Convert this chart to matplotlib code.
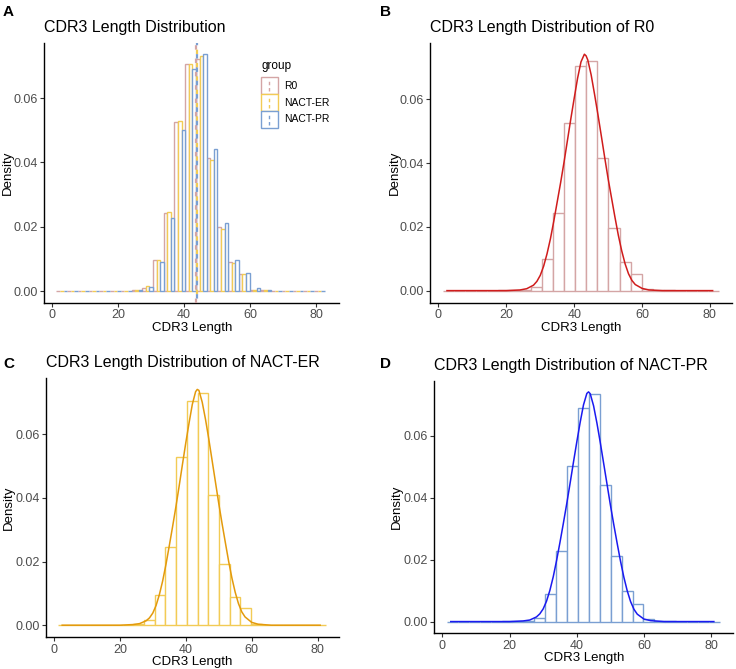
import matplotlib
matplotlib.use("Agg")
import matplotlib.pyplot as plt
from matplotlib.patches import Patch, Rectangle
from matplotlib.lines import Line2D
from matplotlib.legend_handler import HandlerBase

plt.rcParams["font.family"] = ["Liberation Sans", "DejaVu Sans"]

groups = ["R0", "NACT-ER", "NACT-PR"]

# histogram bins (left edge of first bin, width, 25 bins)
bin_start = 1.35
bin_width = 3.25

dens_r0 = [0.0, 0.0, 0.0, 0.0, 0.0, 0.0001, 0.0001, 0.0003, 0.0011, 0.0098, 0.0243, 0.0526, 0.0705,
           0.0721, 0.0415, 0.0198, 0.0090, 0.0053, 0.0005, 0.0002, 0.0001, 0.0, 0.0, 0.0, 0.0]
dens_er = [0.0, 0.0, 0.0, 0.0, 0.0, 0.0001, 0.0001, 0.0003, 0.0015, 0.0096, 0.0246, 0.0529, 0.0705,
           0.0730, 0.0409, 0.0192, 0.0088, 0.0053, 0.0004, 0.0002, 0.0001, 0.0, 0.0, 0.0, 0.0]
dens_pr = [0.0, 0.0, 0.0, 0.0, 0.0, 0.0001, 0.0001, 0.0002, 0.0013, 0.0090, 0.0228, 0.0502, 0.0690,
           0.0736, 0.0442, 0.0211, 0.0098, 0.0057, 0.0009, 0.0003, 0.0001, 0.0, 0.0, 0.0, 0.0]

group_means = [43.75, 43.85, 43.8]

# density curves
curve_x = [2.5, 20, 24, 26, 28, 29, 30, 31, 32, 33, 34, 35, 36, 37, 38, 39, 40, 41, 42, 43, 43.5,
           44, 45, 46, 47, 48, 49, 50, 51, 52, 53, 54, 55, 56, 57, 58, 60, 62, 66, 80.8]
curve_r0 = [0.0, 0.0, 0.0002, 0.0006, 0.0017, 0.0029, 0.0048, 0.0077, 0.0116, 0.0163, 0.0219,
            0.0279, 0.0339, 0.0403, 0.0471, 0.0539, 0.0604, 0.0667, 0.0718, 0.0742, 0.0737,
            0.0724, 0.0677, 0.0616, 0.0552, 0.0485, 0.0417, 0.0351, 0.0291, 0.0231, 0.0174,
            0.0125, 0.0084, 0.0053, 0.0032, 0.0019, 0.0007, 0.0002, 0.0, 0.0]
curve_er = [0.0, 0.0, 0.0002, 0.0005, 0.0014, 0.0023, 0.0038, 0.0062, 0.0096, 0.0139, 0.0191,
            0.0249, 0.0309, 0.0371, 0.0437, 0.0505, 0.0572, 0.0635, 0.0694, 0.0734, 0.0741,
            0.0738, 0.0701, 0.0647, 0.0585, 0.0518, 0.0451, 0.0384, 0.0321, 0.0261, 0.0202,
            0.0149, 0.0104, 0.0068, 0.0042, 0.0026, 0.0009, 0.0003, 0.0, 0.0]
curve_pr = [0.0, 0.0, 0.0002, 0.0005, 0.0015, 0.0025, 0.0041, 0.0066, 0.0101, 0.0145, 0.0198,
            0.0256, 0.0317, 0.0380, 0.0446, 0.0514, 0.0580, 0.0643, 0.0700, 0.0737, 0.0742,
            0.0736, 0.0697, 0.0641, 0.0578, 0.0511, 0.0444, 0.0377, 0.0314, 0.0254, 0.0196,
            0.0144, 0.0100, 0.0065, 0.0040, 0.0024, 0.0008, 0.0003, 0.0, 0.0]

edge_cols = ["#D4A5A5", "#F2CB55", "#7A9FD2"]
line_cols = ["#D01C1C", "#E39A0C", "#1A1AF0"]

hist_data = [dens_r0, dens_er, dens_pr]
curve_data = [curve_r0, curve_er, curve_pr]

bin_lefts = [bin_start + i * bin_width for i in range(len(dens_r0))]


class VKeyHandler(HandlerBase):
    def create_artists(self, legend, orig, xd, yd, width, height, fontsize, trans):
        col = orig.get_edgecolor()
        box = Rectangle((-xd, -yd), width, height, facecolor="white", edgecolor=col,
                        lw=1.0, transform=trans)
        cx = -xd + width / 2
        vl = Line2D([cx, cx], [-yd + 2, -yd + height - 2], color=col,
                    lw=1.0, ls=(0, (2.5, 2)), transform=trans)
        return [box, vl]


def style_axes(ax, xlim, ylim, ylab_x, xlab_y):
    for s in ["top", "right"]:
        ax.spines[s].set_visible(False)
    for s in ["left", "bottom"]:
        ax.spines[s].set_linewidth(1.0)
        ax.spines[s].set_color("black")
    ax.set_xlim(*xlim)
    ax.set_ylim(*ylim)
    ax.set_xticks([0, 20, 40, 60, 80])
    ax.set_yticks([0.0, 0.02, 0.04, 0.06])
    ax.set_yticklabels(["0.00", "0.02", "0.04", "0.06"])
    ax.tick_params(labelsize=9, colors="#333333", labelcolor="#4D4D4D", length=3, width=0.8,
                   pad=1.5)
    ax.set_xlabel("CDR3 Length", fontsize=9.5)
    ax.set_ylabel("Density", fontsize=9.5)
    ax.yaxis.set_label_coords(ylab_x, 0.5)
    ax.xaxis.set_label_coords(0.5, xlab_y)
    ax.xaxis.label.set_va("center")
    ax.yaxis.label.set_va("center")


fig = plt.figure(figsize=(7.36, 6.69), dpi=100)

# panel A
axA = fig.add_axes([0.0602, 0.5475, 0.4008, 0.3886])
sub_w = bin_width / 3
for g, (dens, col) in enumerate(zip(hist_data, edge_cols)):
    lefts = [b + g * sub_w for b in bin_lefts]
    axA.bar(lefts, dens, width=sub_w, align="edge", facecolor="white", edgecolor=col,
            linewidth=1.0, zorder=2 + g)
for g, (m, col) in enumerate(zip(group_means, edge_cols)):
    axA.axvline(m, color=col, ls=(g * 2.0, (2, 4)), lw=1.6, zorder=6)
style_axes(axA, (-2.3, 87.0), (-0.0036, 0.0772), -0.125, -0.097)
axA.set_title("CDR3 Length Distribution", loc="left", fontsize=11.5, pad=8)
handles = [Patch(facecolor="white", edgecolor=c, label=g) for g, c in zip(groups, edge_cols)]
leg = axA.legend(handles=handles, title="group", handler_map={Patch: VKeyHandler()},
                 loc="upper left", bbox_to_anchor=(0.735, 0.935), frameon=False, fontsize=7.5,
                 title_fontsize=8.5, handlelength=1.6, handleheight=2.1, labelspacing=0.0,
                 handletextpad=0.6, borderpad=0.0, borderaxespad=0.0)
leg._legend_box.align = "left"
leg._legend_box.sep = 4

# panels B, C, D
rects = [[0.5847, 0.5475, 0.4103, 0.3886],
         [0.0625, 0.0474, 0.3985, 0.3881],
         [0.5901, 0.0533, 0.4063, 0.3776]]
ylab_xs = [-0.117, -0.125, -0.126]
xlab_ys = [-0.097, -0.094, -0.096]
for g, rect in enumerate(rects):
    ax = fig.add_axes(rect)
    ax.bar(bin_lefts, hist_data[g], width=bin_width, align="edge", facecolor="white",
           edgecolor=edge_cols[g], linewidth=1.0, zorder=2)
    ax.plot(curve_x, curve_data[g], color=line_cols[g], lw=1.1, zorder=3)
    style_axes(ax, (-2.4, 86.6), (-0.0038, 0.0778), ylab_xs[g], xlab_ys[g])
    ax.set_title("CDR3 Length Distribution of " + groups[g], loc="left", fontsize=11.5, pad=8)

# panel letters
for letter, x, y in [("A", 0.004, 0.992), ("B", 0.516, 0.992), ("C", 0.004, 0.467), ("D", 0.516, 0.467)]:
    fig.text(x, y, letter, fontsize=11, fontweight="bold", va="top", ha="left")

fig.savefig("out.png", dpi=100)
